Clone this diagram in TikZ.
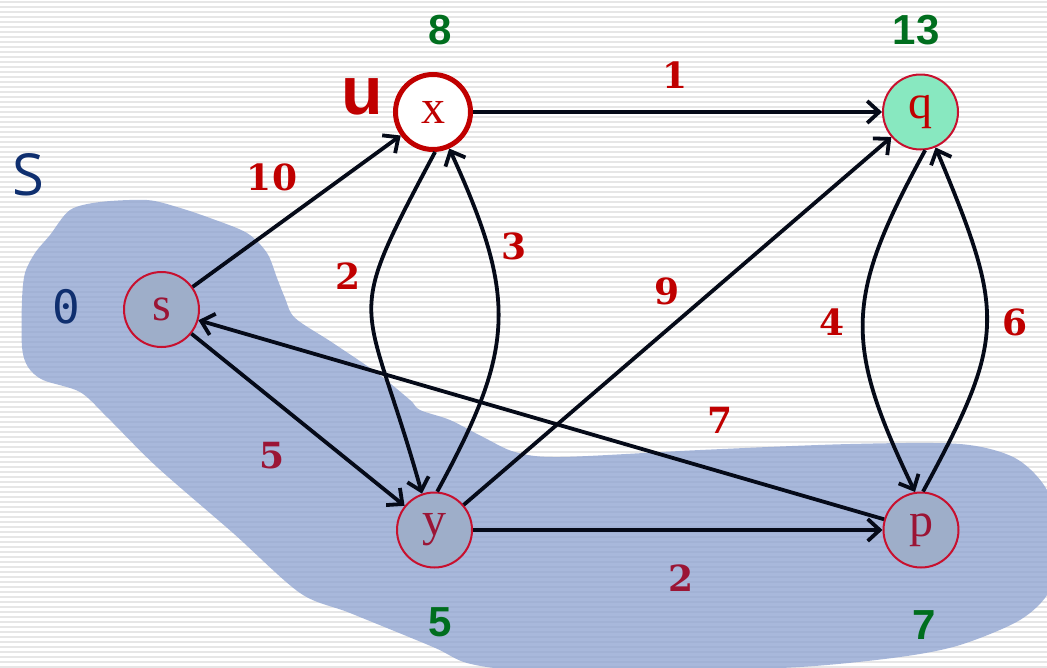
\documentclass[tikz,border=0pt]{standalone}
\usepackage{fontspec}
\setmainfont{Liberation Serif}
\newfontfamily\lsans{Liberation Sans}
\newfontfamily\osans{Open Sans}
\newfontfamily\dmono{DejaVu Sans Mono}
\newfontfamily\dserif{DejaVu Serif}
\usetikzlibrary{arrows.meta}
\definecolor{stripec}{HTML}{E6E6E6}
\definecolor{blobc}{HTML}{8CA1D0}
\definecolor{nodered}{HTML}{C8102E}
\definecolor{lblred}{HTML}{C00000}
\definecolor{darkred}{HTML}{9B1535}
\definecolor{ingray}{HTML}{9EAEC9}
\definecolor{qgreen}{HTML}{88E8C0}
\definecolor{dgreen}{HTML}{006E1E}
\definecolor{navy}{HTML}{0F2F6F}
\definecolor{edgec}{HTML}{050A18}
\tikzset{
  vert/.style={circle,minimum size=75pt,inner sep=0pt,draw=nodered,line width=2pt,
    font=\fontsize{48}{48}\selectfont},
  invert/.style={vert,fill=ingray,text=darkred},
  edge/.style={line width=3.8pt,draw=edgec,-{Straight Barb[length=12pt,width=22pt,line width=3.8pt]}},
  wlbl/.style={font=\dserif\fontsize{36}{36}\selectfont\bfseries,text=lblred,inner sep=0pt},
  wlbld/.style={wlbl,text=darkred},
  dist/.style={font=\lsans\fontsize{42}{42}\selectfont\bfseries,text=dgreen,inner sep=0pt},
}
\begin{document}
\begin{tikzpicture}[x=1pt,y=1pt]
\useasboundingbox (0,0) rectangle (1047,-667);
\fill[white] (0,0) rectangle (1047,-667);
\foreach \i in {0,...,133} \fill[stripec] (0,-\i*5-1) rectangle (1047,-\i*5-3);
% blob
\begin{scope}
\clip (0,0) rectangle (1047,-667);
\fill[blobc,opacity=0.75] plot[smooth cycle,tension=0.5] coordinates {
 (22,-300) (25,-273) (35,-253) (50,-235) (70,-210) (100,-202) (147,-200) (177,-207)
 (210,-218) (247,-233) (267,-253) (277,-278) (285,-298) (295,-318) (333,-343)
 (377,-373) (410,-400) (420,-410) (450,-420) (483,-437) (515,-452) (560,-457)
 (700,-450) (850,-444) (960,-444) (1015,-458) (1047,-490) (1060,-540) (1050,-590)
 (1020,-620) (960,-645) (900,-657) (800,-667) (650,-672) (520,-670) (467,-663)
 (433,-647) (350,-613) (300,-593) (233,-533) (157,-467) (107,-417) (80,-392)
 (43,-380) (28,-367) (22,-347)};
\end{scope}
% nodes
\node[invert] (s) at (161.5,-309.5) {s};
\node[vert,fill=white,text=lblred,line width=5pt,draw=lblred] (x) at (433,-112) {x};
\node[vert,fill=qgreen,text=lblred] (q) at (920.5,-112) {q};
\node[invert] (y) at (434.5,-530) {y};
\node[invert] (p) at (921,-530) {p};
% edges
\draw[edge] (s) -- (x);
\draw[edge] (x) -- (q);
\draw[edge] (x.-87) .. controls (340,-330) and (365,-290) .. (y.109);
\draw[edge] (y.86) .. controls (515,-349) and (518,-299) .. (x.-66);
\draw[edge] (s) -- (y);
\draw[edge] (y) -- (q);
\draw[edge] (p) -- (s);
\draw[edge] (y) -- (p);
\draw[edge] (q.-83) .. controls (845,-297) and (843,-342) .. (p.99);
\draw[edge] (p.87) .. controls (1007,-337) and (1005,-314) .. (q.-67);
% edge labels
\node[wlbl] (l1) at (675,-75) {1};
\node[wlbl] (l10) at (272,-177) {10};
\node[wlbl] (l2a) at (348,-276) {2};
\node[wlbl] (l3) at (514,-246) {3};
\node[wlbl] (l9) at (667,-291) {9};
\node[wlbl] (l4) at (832,-322) {4};
\node[wlbl] (l6) at (1015,-322) {6};
\node[wlbl] (l7) at (720,-420) {7};
\node[wlbld] (l5) at (272,-456) {5};
\node[wlbld] (l2b) at (681,-578) {2};
% distances
\node[dist] (dx) at (440,-30) {8};
\node[dist] (dq) at (916,-30) {13};
\node[dist] (dy) at (440,-622) {5};
\node[dist] (dp) at (924,-625) {7};
\node[font=\lsans\fontsize{68}{68}\selectfont\bfseries,text=lblred,inner sep=0pt] (u) at (362,-97) {u};
\node[font=\osans\fontsize{58}{58}\selectfont,text=navy,inner sep=0pt] (S) at (28,-175) {S};
\node[font=\dmono\fontsize{46}{46}\selectfont,text=navy,inner sep=0pt] (zero) at (66,-307) {0};
\end{tikzpicture}
\end{document}
